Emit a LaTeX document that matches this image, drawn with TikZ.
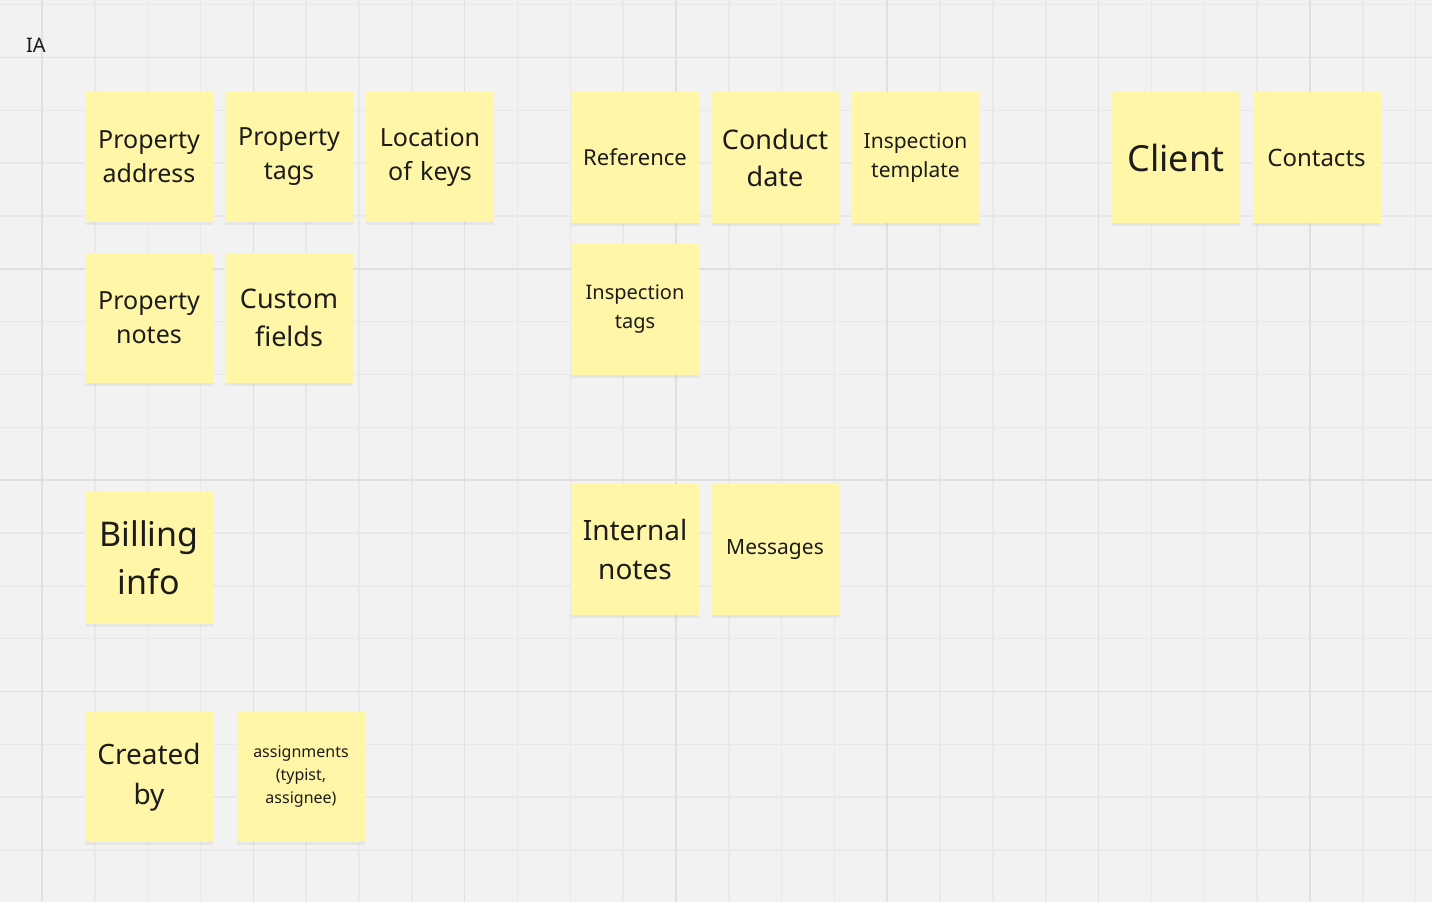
\documentclass[tikz,border=0pt]{standalone}
\usepackage{fontspec}
\setmainfont{Noto Sans}
\usetikzlibrary{positioning, shadows}
\definecolor{board}{RGB}{242,242,242}
\definecolor{gridminor}{RGB}{233,233,233}
\definecolor{gridmajor}{RGB}{224,224,224}
\definecolor{stickyyellow}{RGB}{255,246,168}
\definecolor{ink}{RGB}{28,28,28}
\newcommand{\fsz}[2]{\fontsize{#1}{#2}\selectfont}

\tikzset{
    sticky/.style={rectangle, fill=stickyyellow, text=ink, minimum width=128pt,
        minimum height=130pt, text width=116pt, align=center, inner sep=0pt,
        drop shadow={opacity=0.10, shadow xshift=0pt, shadow yshift=-3pt}},
    label/.style={text=ink, inner sep=0pt}
}

\begin{document}
\begin{tikzpicture}[x=1pt, y=-1pt]
    % nền bảng
    \fill[board] (0,0) rectangle (1432,902);
    \useasboundingbox (0,0) rectangle (1432,902);

    % lưới
    \foreach \k in {-1,...,26} {
        \draw[gridminor, line width=1.5pt] ({42+52.83*\k},0) -- ({42+52.83*\k},902);
    }
    \foreach \k in {0,...,17} {
        \draw[gridminor, line width=1.5pt] (0,{4.7+52.83*\k}) -- (1432,{4.7+52.83*\k});
    }
    \foreach \k in {0,...,6} {
        \draw[gridmajor, line width=1.5pt] ({42+211.3*\k},0) -- ({42+211.3*\k},902);
    }
    \foreach \k in {0,...,3} {
        \draw[gridmajor, line width=1.5pt] (0,{57.5+211.3*\k}) -- (1432,{57.5+211.3*\k});
    }

    % tiêu đề
    \node[label, font=\fsz{20}{24}] (ia) at (36,45) {IA};

    % nhóm bất động sản
    \node[sticky, font=\fsz{25}{34}] (propaddr) at (149,157) {Property\\address};
    \node[sticky, font=\fsz{25}{34}] (proptags) at (289,157) {Property\\tags};
    \node[sticky, font=\fsz{25}{34}] (lockeys) at (430,157) {Location\\of keys};
    \node[sticky, font=\fsz{25}{34}] (propnotes) at (149,318) {Property\\notes};
    \node[sticky, font=\fsz{27}{38}] (custom) at (289,318) {Custom\\fields};

    % nhóm kiểm tra
    \node[sticky, minimum height=131pt, font=\fsz{22}{30}] (reference) at (635,157.5) {Reference};
    \node[sticky, minimum height=131pt, font=\fsz{27}{37}] (conduct) at (775,157.5) {Conduct\\date};
    \node[sticky, minimum height=131pt, font=\fsz{21}{29}] (insptemplate) at (915.5,157.5) {Inspection\\template};
    \node[sticky, minimum height=131pt, font=\fsz{20}{29}] (insptags) at (635,309.5) {Inspection\\tags};

    % khách hàng
    \node[sticky, minimum height=131pt, font=\fsz{36}{44}] (client) at (1176,157.5) {Client};
    \node[sticky, minimum height=131pt, font=\fsz{24}{32}] (contacts) at (1316.5,157.5) {Contacts};

    % thanh toán và ghi chú
    \node[sticky, minimum height=132pt, font=\fsz{34}{48}] (billing) at (149,558) {Billing\\info};
    \node[sticky, minimum height=131pt, font=\fsz{28}{39}] (internal) at (635,549.5) {Internal\\notes};
    \node[sticky, minimum height=131pt, font=\fsz{21}{29}] (messages) at (775,549.5) {Messages};

    % người tạo
    \node[sticky, font=\fsz{28}{40}] (created) at (149,777) {Created\\by};
    \node[sticky, font=\fsz{16}{23}] (assign) at (301,777) {assignments\\(typist,\\assignee)};
\end{tikzpicture}
\end{document}
